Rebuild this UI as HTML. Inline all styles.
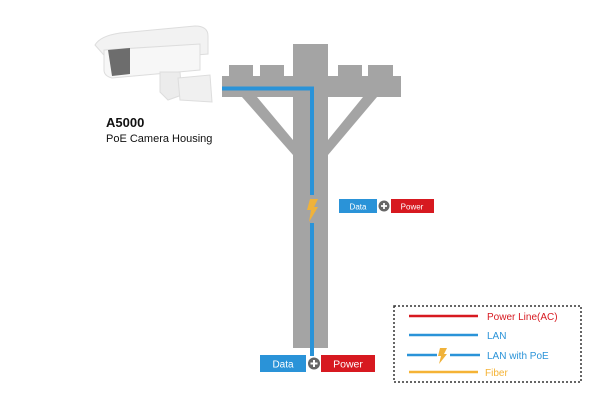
<!DOCTYPE html>
<html><head><style>
body{margin:0;background:#fff;width:604px;height:400px;overflow:hidden;font-family:"Liberation Sans",sans-serif}
</style></head><body>
<svg width="604" height="400" viewBox="0 0 604 400" xmlns="http://www.w3.org/2000/svg" font-family="Liberation Sans, sans-serif">
<!-- camera -->
<g>
<path d="M95,45 Q100,36 120,33 L195,26 Q208,26 208,36 L208,54 L110,62 Z" fill="#f2f2f2" stroke="#ddd"/>
<path d="M104,50 L200,44 L200,70 L112,78 Q104,76 104,70 Z" fill="#f7f7f7" stroke="#ddd"/>
<path d="M108,50 L130,48 L130,74 L112,76 Z" fill="#6d6d6d"/>
<path d="M160,72 L180,72 L182,95 L168,100 L160,92 Z" fill="#ececec" stroke="#ddd"/>
<path d="M178,78 L210,75 L212,102 L180,100 Z" fill="#f0f0f0" stroke="#ddd"/>
</g>
<text x="106" y="127" font-size="13" font-weight="bold" fill="#111">A5000</text>
<text x="106" y="142" font-size="11" fill="#111">PoE Camera Housing</text>
<!-- pole -->
<g fill="#a4a4a4">
<rect x="293" y="44" width="35" height="304"/>
<rect x="222" y="76" width="179" height="21"/>
<rect x="229" y="65" width="24" height="12"/>
<rect x="260" y="65" width="24" height="12"/>
<rect x="338" y="65" width="24" height="12"/>
<rect x="368" y="65" width="25" height="12"/>
<polygon points="242,97 257,97 293,140 293,155"/>
<polygon points="377,97 363,97 328,140 328,155"/>
</g>
<!-- blue line -->
<path d="M222,88.5 L312,88.5 L312,195" stroke="#2a93d8" stroke-width="4" fill="none"/>
<line x1="312" y1="223" x2="312" y2="356" stroke="#2a93d8" stroke-width="4"/>
<polygon points="310,199 318,199 314,207 318,207 309,222 311,210 307,210" fill="#f0b23a"/>
<!-- upper data/power -->
<rect x="339" y="199" width="38" height="14" fill="#2a93d8"/>
<text x="358" y="209.5" font-size="8" fill="#fff" text-anchor="middle">Data</text>
<circle cx="384" cy="206" r="5.5" fill="#666"/>
<path d="M381,206 h6 M384,203 v6" stroke="#fff" stroke-width="1.8"/>
<rect x="391" y="199" width="43" height="14" fill="#d71920"/>
<text x="412" y="209.5" font-size="8" fill="#fff" text-anchor="middle">Power</text>
<!-- lower -->
<rect x="260" y="355" width="46" height="17" fill="#2a93d8"/>
<text x="283" y="367.5" font-size="10" fill="#fff" text-anchor="middle">Data</text>
<circle cx="314" cy="363.5" r="6" fill="#666"/>
<path d="M310.5,363.5 h7 M314,360 v7" stroke="#fff" stroke-width="2"/>
<rect x="321" y="355" width="54" height="17" fill="#d71920"/>
<text x="348" y="367.5" font-size="10.5" fill="#fff" text-anchor="middle">Power</text>
<!-- legend -->
<rect x="394" y="306" width="187" height="76" fill="none" stroke="#333" stroke-width="1.5" stroke-dasharray="2,2"/>
<line x1="409" y1="316" x2="478" y2="316" stroke="#d71920" stroke-width="2.5"/>
<text x="487" y="320" font-size="10" fill="#d71920">Power Line(AC)</text>
<line x1="409" y1="335" x2="478" y2="335" stroke="#2a93d8" stroke-width="2.5"/>
<text x="487" y="339" font-size="10" fill="#2a93d8">LAN</text>
<line x1="407" y1="355" x2="437" y2="355" stroke="#2a93d8" stroke-width="2.5"/>
<line x1="450" y1="355" x2="480" y2="355" stroke="#2a93d8" stroke-width="2.5"/>
<polygon points="440,348 447,348 444,354 447,354 439,364 441,356 438,356" fill="#f0b23a"/>
<text x="487" y="359" font-size="10" fill="#2a93d8">LAN with PoE</text>
<line x1="409" y1="372" x2="478" y2="372" stroke="#f5b335" stroke-width="2.5"/>
<text x="485" y="376" font-size="10" fill="#f5b335">Fiber</text>
</svg>
</body></html>
